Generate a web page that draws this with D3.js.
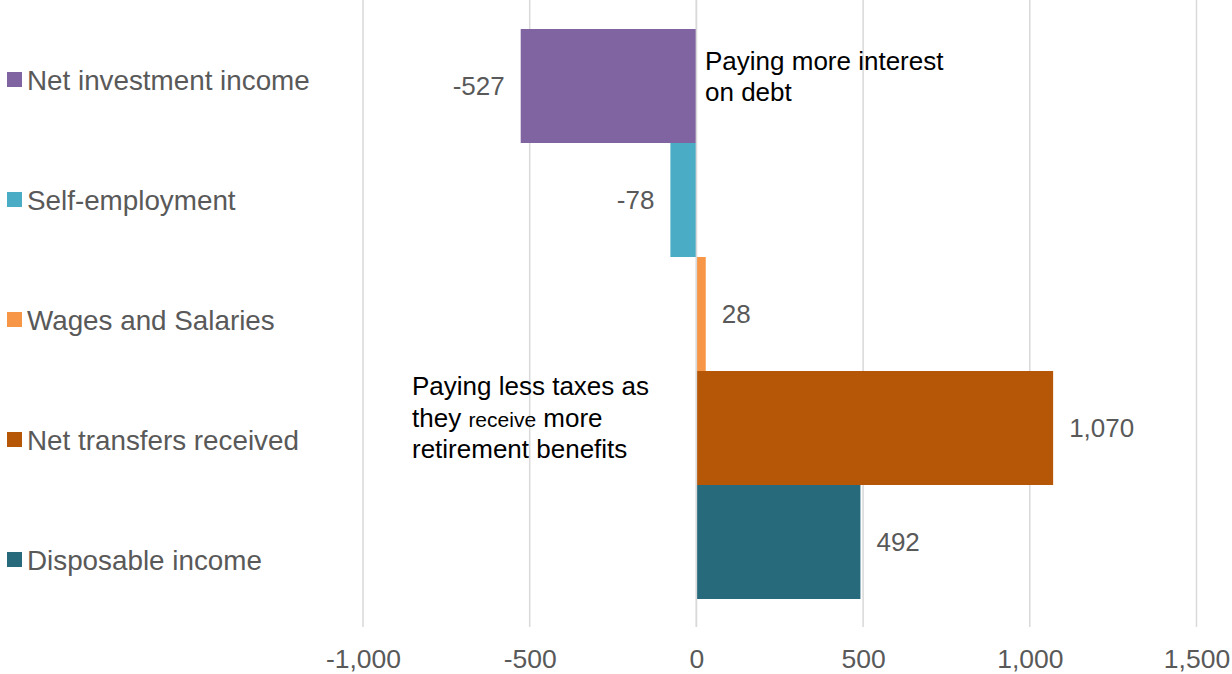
<!DOCTYPE html>
<html>
<head>
<meta charset="utf-8">
<script src="https://cdn.jsdelivr.net/npm/d3@7"></script>
<style>
  html, body { margin: 0; padding: 0; background: #ffffff; }
  svg { display: block; font-family: "Liberation Sans", Arial, sans-serif; }
</style>
</head>
<body>
<svg id="chart" width="1232" height="674"></svg>
<script>
// Income components (change), top to bottom
const categories = [
  "Net investment income",
  "Self-employment",
  "Wages and Salaries",
  "Net transfers received",
  "Disposable income"
];
const values = [-527, -78, 28, 1070, 492];
const colors = ["#8064A2", "#4BACC6", "#F79646", "#B65708", "#276A7C"];
const tickValues = [-1000, -500, 0, 500, 1000, 1500];

const svg = d3.select("#chart");

const fmt = d3.formatLocale({
  decimal: ".", thousands: ",", grouping: [3], currency: ["$", ""], minus: "-"
}).format(",");

const x = d3.scaleLinear().domain([-1000, 1500]).range([363, 1196.5]);
const y = d3.scaleBand().domain(categories).range([29, 599]).padding(0);

const gridTop = 0, gridBottom = 627;
const labelGray = "#595959";

// Vertical gridlines
svg.append("g")
  .selectAll("line")
  .data(tickValues)
  .join("line")
  .attr("x1", d => x(d)).attr("x2", d => x(d))
  .attr("y1", gridTop).attr("y2", gridBottom)
  .attr("stroke", "#D9D9D9")
  .attr("stroke-width", 1.5);

// Bars
svg.append("g")
  .selectAll("rect")
  .data(categories)
  .join("rect")
  .attr("x", (d, i) => Math.min(x(0), x(values[i])))
  .attr("width", (d, i) => Math.abs(x(values[i]) - x(0)))
  .attr("y", d => y(d))
  .attr("height", y.bandwidth())
  .attr("fill", (d, i) => colors[i]);

// Zero line over the bars
svg.append("line")
  .attr("x1", x(0)).attr("x2", x(0))
  .attr("y1", gridTop).attr("y2", gridBottom)
  .attr("stroke", "#D9D9D9")
  .attr("stroke-width", 1.5);

// Value labels beside each bar
svg.append("g")
  .selectAll("text")
  .data(categories)
  .join("text")
  .attr("x", (d, i) => values[i] < 0 ? x(values[i]) - 16 : x(values[i]) + 16)
  .attr("y", d => y(d) + y.bandwidth() / 2)
  .attr("dy", "0.35em")
  .attr("text-anchor", (d, i) => values[i] < 0 ? "end" : "start")
  .attr("font-size", 26)
  .attr("fill", labelGray)
  .text((d, i) => fmt(values[i]));

// Bottom axis tick labels
const axis = d3.axisBottom(x)
  .tickValues(tickValues)
  .tickSize(0)
  .tickPadding(0)
  .tickFormat(fmt);
const axisG = svg.append("g")
  .attr("transform", "translate(0,649)")
  .call(axis);
axisG.select(".domain").remove();
axisG.selectAll("text")
  .attr("font-family", "Liberation Sans, Arial, sans-serif")
  .attr("font-size", 26.5)
  .attr("fill", labelGray);

// Legend on the left
const legendY = [80, 200, 320, 440, 560];
const legend = svg.append("g")
  .selectAll("g")
  .data(categories)
  .join("g")
  .attr("transform", (d, i) => `translate(0,${legendY[i]})`);
legend.append("rect")
  .attr("x", 7).attr("y", -8)
  .attr("width", 15).attr("height", 15)
  .attr("fill", (d, i) => colors[i]);
legend.append("text")
  .attr("x", 27)
  .attr("y", 9.5)
  .attr("font-size", 27.8)
  .attr("fill", labelGray)
  .text(d => d);

// Annotations
const note1 = svg.append("text")
  .attr("font-size", 26)
  .attr("fill", "#000000");
note1.append("tspan").attr("x", 705).attr("y", 70).text("Paying more interest");
note1.append("tspan").attr("x", 705).attr("y", 101).text("on debt");

const note2 = svg.append("text")
  .attr("font-size", 26)
  .attr("fill", "#000000");
note2.append("tspan").attr("x", 412).attr("y", 395).text("Paying less taxes as");
note2.append("tspan").attr("x", 412).attr("y", 426.5).text("they ");
note2.append("tspan").attr("font-size", 21).text("receive");
note2.append("tspan").text(" more");
note2.append("tspan").attr("x", 412).attr("y", 458).text("retirement benefits");
</script>
</body>
</html>
